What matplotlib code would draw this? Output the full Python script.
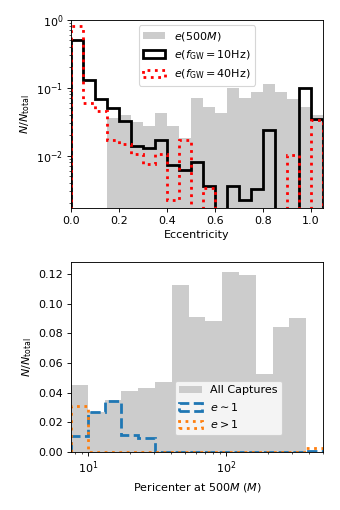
import numpy as np
import matplotlib.pyplot as plt

# eccentricity histograms (bins of 0.05)
ecc_edges = np.arange(0, 1.05 + 0.001, 0.05)
e_500M = [0, 0, 0, 0.036, 0.040, 0.031, 0.027, 0.042, 0.027, 0.018, 0.070,
          0.053, 0.043, 0.100, 0.070, 0.088, 0.113, 0.088, 0.068, 0.053, 0.040]
e_10Hz = [0.50, 0.129, 0.068, 0.050, 0.033, 0.0139, 0.0131, 0.0168, 0.0072,
          0.0061, 0.0081, 0.0036, 0, 0.0036, 0.0022, 0.0032, 0.024, 0, 0,
          0.100, 0.035]
e_40Hz = [0.80, 0.059, 0.046, 0.017, 0.015, 0.0106, 0.0076, 0.0106, 0.0022,
          0.017, 0, 0.0034, 0, 0, 0, 0, 0, 0, 0.0102, 0, 0.034]

# pericenter histograms (log bins)
peri_edges = 10 ** np.linspace(0.878, 2.70, 16)
all_capt = [0.0454, 0.0267, 0.035, 0.041, 0.043, 0.047, 0.1128, 0.0912,
            0.0883, 0.1216, 0.119, 0.0524, 0.084, 0.090, 0]
e_sim1 = [0.0106, 0.027, 0.034, 0.0112, 0.0094, 0, 0, 0, 0, 0, 0, 0, 0, 0,
          0.0006]
e_gt1 = [0.031, 0, 0, 0, 0, 0, 0, 0, 0, 0, 0, 0, 0, 0, 0.0023]

ecc_mid = 0.5 * (ecc_edges[1:] + ecc_edges[:-1])
peri_mid = np.sqrt(peri_edges[1:] * peri_edges[:-1])

fig = plt.figure(figsize=(4.25, 6.375), dpi=80)
ax1 = fig.add_axes([0.209, 0.592, 0.741, 0.369])
ax2 = fig.add_axes([0.209, 0.114, 0.741, 0.372])

ax1.hist(ecc_mid, bins=ecc_edges, weights=e_500M, histtype='stepfilled',
         color='0.8', label=r'$e(500M)$')
ax1.hist(ecc_mid, bins=ecc_edges, weights=e_10Hz, histtype='step',
         color='black', lw=2.5, label=r'$e(f_{\rm GW}=10{\rm Hz})$')
ax1.hist(ecc_mid, bins=ecc_edges, weights=e_40Hz, histtype='step',
         color='red', lw=2.5, ls=':', label=r'$e(f_{\rm GW}=40{\rm Hz})$')
ax1.set_yscale('log')
ax1.set_ylim(0.0017, 1)
ax1.set_xlim(0, 1.05)
ax1.set_xlabel('Eccentricity')
ax1.set_ylabel(r'$N/N_{\rm total}$')
ax1.legend(loc='upper center')

ax2.hist(peri_mid, bins=peri_edges, weights=all_capt, histtype='stepfilled',
         color='0.8', label='All Captures')
ax2.hist(peri_mid, bins=peri_edges, weights=e_sim1, histtype='step',
         color='tab:blue', lw=2.5, ls='--', label=r'$e\sim1$')
ax2.hist(peri_mid, bins=peri_edges, weights=e_gt1, histtype='step',
         color='tab:orange', lw=2.5, ls=':', label=r'$e>1$')
ax2.set_xscale('log')
ax2.set_xlim(peri_edges[0], peri_edges[-1])
ax2.set_ylim(0, 0.128)
ax2.set_yticks(np.arange(0, 0.121, 0.02))
ax2.set_xlabel(r'Pericenter at 500$M$ ($M$)')
ax2.set_ylabel(r'$N/N_{\rm total}$')
ax2.legend(loc='lower left', bbox_to_anchor=(0.39, 0.06))

fig.savefig('out.png', dpi=80)
